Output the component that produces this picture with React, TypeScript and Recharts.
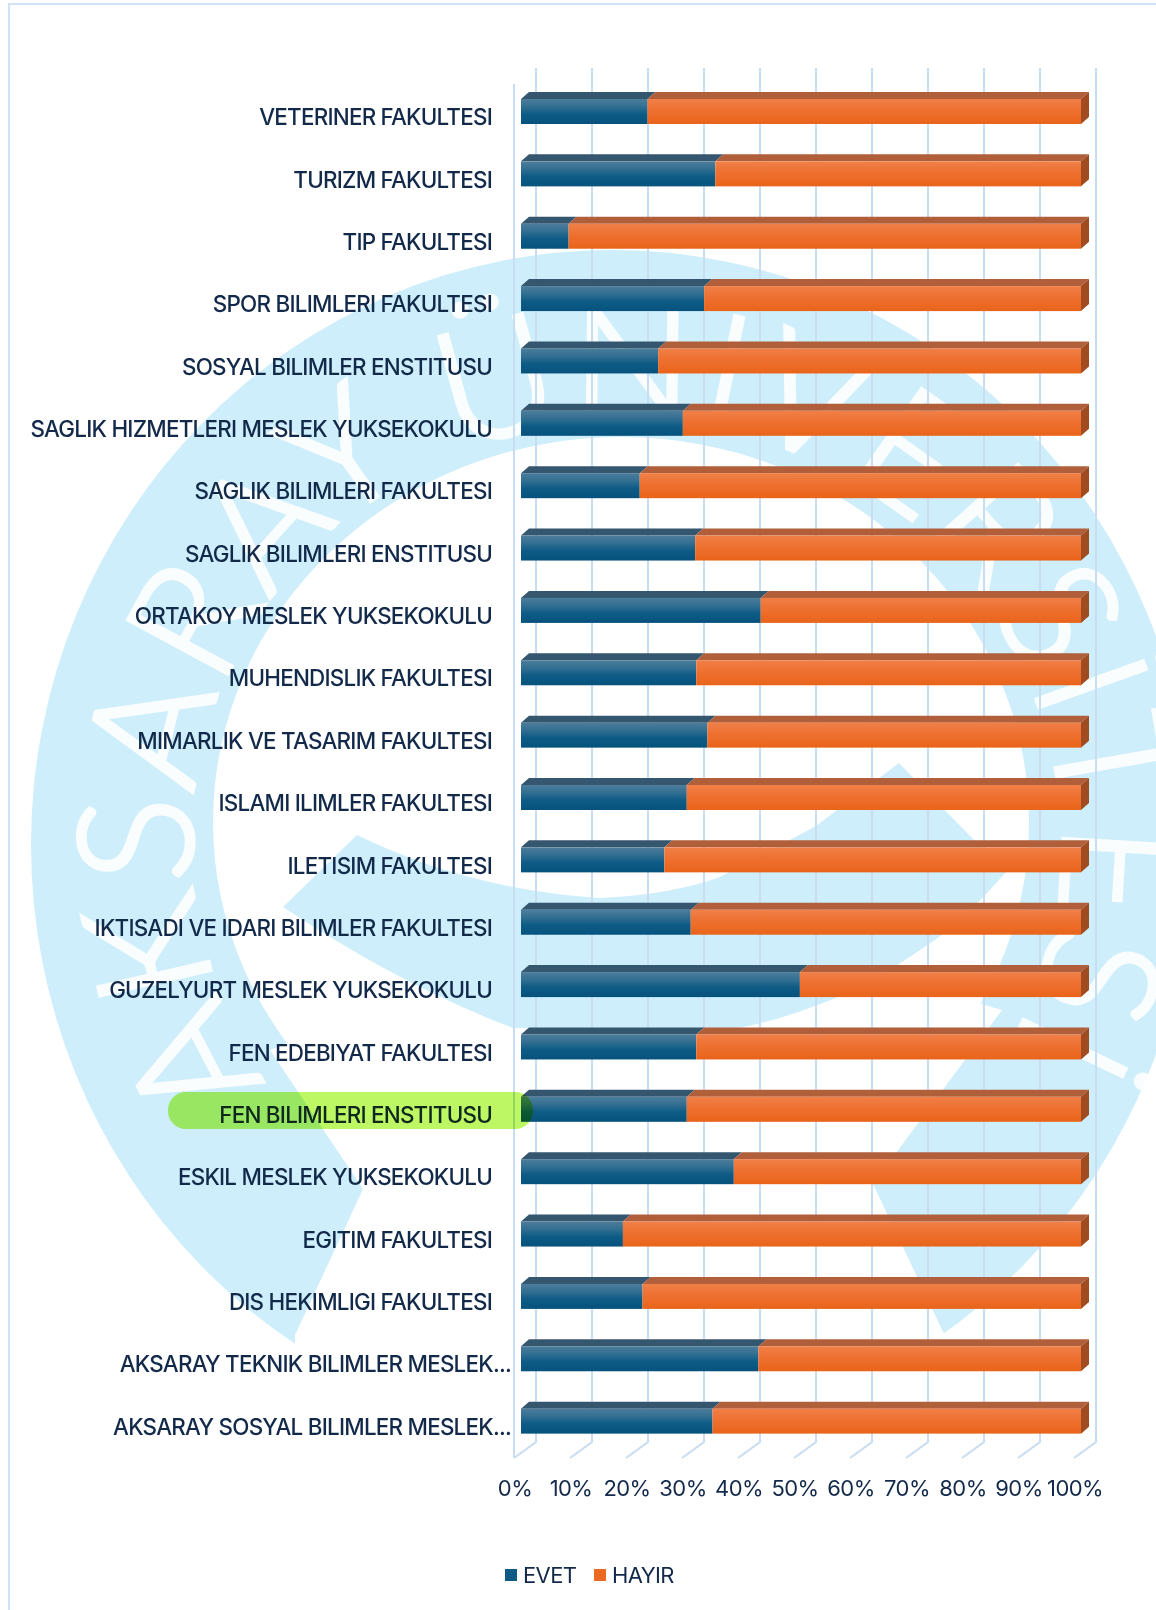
import React from "react";
import { BarChart, Bar, XAxis, YAxis, CartesianGrid, Legend } from "recharts";

const categories = [
  "VETERINER FAKULTESI",
  "TURIZM FAKULTESI",
  "TIP FAKULTESI",
  "SPOR BILIMLERI FAKULTESI",
  "SOSYAL BILIMLER ENSTITUSU",
  "SAGLIK HIZMETLERI MESLEK YUKSEKOKULU",
  "SAGLIK BILIMLERI FAKULTESI",
  "SAGLIK BILIMLERI ENSTITUSU",
  "ORTAKOY MESLEK YUKSEKOKULU",
  "MUHENDISLIK FAKULTESI",
  "MIMARLIK VE TASARIM FAKULTESI",
  "ISLAMI ILIMLER FAKULTESI",
  "ILETISIM FAKULTESI",
  "IKTISADI VE IDARI BILIMLER FAKULTESI",
  "GUZELYURT MESLEK YUKSEKOKULU",
  "FEN EDEBIYAT FAKULTESI",
  "FEN BILIMLERI ENSTITUSU",
  "ESKIL MESLEK YUKSEKOKULU",
  "EGITIM FAKULTESI",
  "DIS HEKIMLIGI FAKULTESI",
  "AKSARAY TEKNIK BILIMLER MESLEK...",
  "AKSARAY SOSYAL BILIMLER MESLEK...",
];
const evet = [22.6, 34.7, 8.5, 32.7, 24.5, 28.9, 21.2, 31.1, 42.8, 31.3, 33.3, 29.6, 25.6, 30.3, 49.8, 31.3, 29.6, 38.0, 18.2, 21.7, 42.4, 34.2];
const hayir = [77.4, 65.3, 91.5, 67.3, 75.5, 71.1, 78.8, 68.9, 57.2, 68.7, 66.7, 70.4, 74.4, 69.7, 50.2, 68.7, 70.4, 62.0, 81.8, 78.3, 57.6, 65.8];
const xTicks = [0, 10, 20, 30, 40, 50, 60, 70, 80, 90, 100];

const data = categories.map((name, i) => ({ name, EVET: evet[i], HAYIR: hayir[i] }));

const FONT = "Inter, sans-serif";
const INK = "#12294a";
const GRID = "#c8dcf2";
const WASH = "#cdeefa";

// 3D look of the original: front face, top face, and an end cap on the last series
const Bar3D = (props: any) => {
  const { x, y, width, height, top, side, grad, cap } = props;
  const dx = 8;
  const dy = 7;
  return (
    <g>
      <polygon
        points={`${x},${y} ${x + dx},${y - dy} ${x + width + dx},${y - dy} ${x + width},${y}`}
        fill={top}
      />
      <rect x={x} y={y} width={width} height={height} fill={`url(#${grad})`} />
      {cap && (
        <polygon
          points={`${x + width},${y} ${x + width + dx},${y - dy} ${x + width + dx},${y + height - dy} ${x + width},${y + height}`}
          fill={side}
        />
      )}
    </g>
  );
};

const GridLine = (props: any) => {
  const { x1, y1, y2, index } = props;
  const back = x1 + 15;
  const front = x1 - 7;
  return (
    <g key={index} stroke={GRID} strokeWidth={2} fill="none">
      <polyline points={`${back},${y1 - 12} ${back},${y2 - 10} ${front},${y2 + 6}`} />
      {x1 < 522 && <line x1={front} y1={y1 + 4} x2={front} y2={y2 + 6} />}
    </g>
  );
};

const CategoryTick = ({ y, payload }: any) => {
  const cut = payload.value.endsWith("...");
  return (
    <text
      x={cut ? 511 : 492}
      y={y + 14}
      textAnchor="end"
      fontFamily={FONT}
      fontSize={22.4}
      fontWeight={500}
      letterSpacing={-0.76}
      fill={INK}
    >
      {payload.value}
    </text>
  );
};

const PercentTick = ({ x, y, payload }: any) => (
  <text x={x - 6} y={y + 36} textAnchor="middle" fontFamily={FONT} fontSize={22} letterSpacing={-0.6} fill={INK}>
    {payload.value}%
  </text>
);

const LegendRow = ({ payload }: any) => (
  <div style={{ position: "relative", height: 50, fontFamily: FONT, fontSize: 22, color: INK }}>
    {(payload || []).map((p: any, i: number) => (
      <span key={p.value} style={{ position: "absolute", left: i === 0 ? 505 : 594, top: 9, display: "flex", alignItems: "center", lineHeight: "12px" }}>
        <span style={{ width: 12, height: 12, background: p.color, marginRight: 6, display: "inline-block" }} />
        <span style={{ letterSpacing: -0.6 }}>{p.value}</span>
      </span>
    ))}
  </div>
);

// university seal behind the chart, washed out
const Watermark = () => (
  <svg width={1156} height={1610} style={{ position: "absolute", left: 0, top: 0 }}>
    <ellipse cx={612} cy={845} rx={581} ry={595} fill={WASH} />
    <ellipse cx={621} cy={822} rx={408} ry={385} fill="#fff" />
    <polygon points="270,1050 363,1189 295,1335 295,1610 946,1610 946,1338 873,1184 1002,1010 621,900" fill="#fff" />
    <path
      d="M357,835 Q470,890 600,898 Q670,895 720,877 L816,826 L899,763 L973,839 L1006,872 Q960,925 923,948 Q870,985 823,1003 Q780,1020 739,1028 L513,1028 Q400,985 283,907 Z"
      fill={WASH}
    />
    <path id="sealArc" d="M267,1082 A435,425 0 1 1 1005,1055" fill="none" />
    <text fontFamily="Lato, sans-serif" fontWeight={300} fontSize={160} fill="#fff" stroke="#fff" strokeWidth={4} opacity={0.9}>
      <textPath href="#sealArc" textLength={1810} lengthAdjust="spacing">
        AKSARAY ÜNİVERSİTESİ
      </textPath>
    </text>
    <path d="M1156,4 L9,4 L9,1610" fill="none" stroke="#cfe3f7" strokeWidth={2} />
  </svg>
);

export default function App() {
  return (
    <div style={{ position: "absolute", left: 0, top: 0, width: 1156, height: 1610, background: "#fff", overflow: "hidden" }}>
      <Watermark />
      <div style={{ position: "absolute", left: 0, top: 0 }}>
        <BarChart
          width={1156}
          height={1610}
          data={data}
          layout="vertical"
          barSize={25}
          margin={{ top: 80, right: 75, bottom: 0, left: 0 }}
        >
          <defs>
            <linearGradient id="blueFront" x1="0" y1="0" x2="0" y2="1">
              <stop offset="0" stopColor="#4d7d9b" />
              <stop offset="0.3" stopColor="#336f92" />
              <stop offset="0.6" stopColor="#0e5c86" />
              <stop offset="1" stopColor="#06527c" />
            </linearGradient>
            <linearGradient id="orangeFront" x1="0" y1="0" x2="0" y2="1">
              <stop offset="0" stopColor="#f08048" />
              <stop offset="0.45" stopColor="#ee7030" />
              <stop offset="1" stopColor="#e9641a" />
            </linearGradient>
          </defs>
          <CartesianGrid horizontal={false} vertical={GridLine} />
          <XAxis
            type="number"
            domain={[0, 100]}
            ticks={xTicks}
            interval={0}
            axisLine={false}
            tickLine={false}
            height={108}
            tick={<PercentTick />}
          />
          <YAxis
            type="category"
            dataKey="name"
            width={521}
            interval={0}
            axisLine={false}
            tickLine={false}
            tick={<CategoryTick />}
          />
          <Legend verticalAlign="bottom" height={50} content={<LegendRow />} wrapperStyle={{ left: 0, width: 1156 }} />
          <Bar
            dataKey="EVET"
            stackId="a"
            fill="#0f5b85"
            isAnimationActive={false}
            shape={(p: any) => <Bar3D {...p} top="#35566f" grad="blueFront" />}
          />
          <Bar
            dataKey="HAYIR"
            stackId="a"
            fill="#ea6a22"
            isAnimationActive={false}
            shape={(p: any) => <Bar3D {...p} top="#b15f3b" side="#a04c20" grad="orangeFront" cap />}
          />
        </BarChart>
      </div>
      <div
        style={{
          position: "absolute",
          left: 168,
          top: 1092,
          width: 365,
          height: 37,
          borderRadius: 18,
          background: "#bdf763",
          mixBlendMode: "multiply",
        }}
      />
    </div>
  );
}
